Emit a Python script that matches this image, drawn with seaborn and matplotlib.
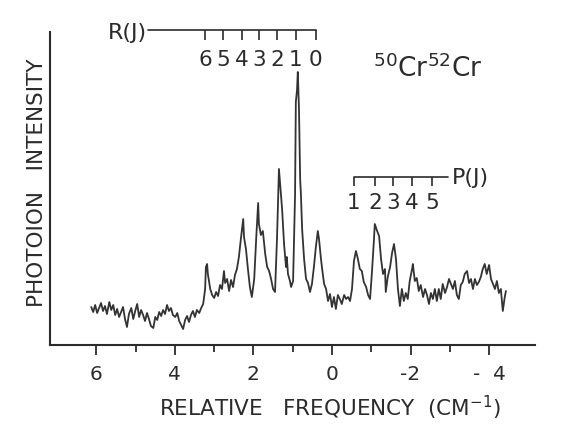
import matplotlib
matplotlib.use("Agg")
import matplotlib.pyplot as plt
import seaborn as sns
import pandas as pd

# ---------------- data ----------------
freq = [6.13, 6.08, 6.03, 5.98, 5.93, 5.88, 5.83, 5.78, 5.73, 5.67,
        5.62, 5.57, 5.52, 5.47, 5.42, 5.37, 5.32, 5.27, 5.22, 5.17,
        5.11, 5.06, 5.01, 4.96, 4.91, 4.86, 4.81, 4.76, 4.71, 4.66,
        4.61, 4.55, 4.50, 4.45, 4.40, 4.35, 4.30, 4.25, 4.20, 4.15,
        4.10, 4.05, 3.99, 3.94, 3.89, 3.84, 3.79, 3.74, 3.69, 3.64,
        3.59, 3.54, 3.49, 3.44, 3.38, 3.33, 3.28,
        3.23, 3.21, 3.18, 3.16, 3.10, 3.05, 3.00, 2.95, 2.90, 2.85,
        2.80, 2.75, 2.72, 2.67, 2.62, 2.57, 2.52, 2.47, 2.42, 2.37,
        2.32, 2.26, 2.24, 2.19, 2.14, 2.09, 2.04, 1.98, 1.93, 1.88,
        1.86, 1.81, 1.76, 1.70, 1.65, 1.60, 1.55, 1.50, 1.45, 1.40,
        1.35, 1.32, 1.27, 1.22, 1.17, 1.15, 1.12, 1.07, 1.04, 0.99,
        0.94, 0.92, 0.89, 0.87, 0.84, 0.81, 0.79, 0.76, 0.71, 0.66,
        0.61, 0.56, 0.51, 0.46, 0.41, 0.36, 0.33, 0.28, 0.25, 0.20,
        0.15, 0.10, 0.05, 0.00, -0.05, -0.10, -0.15, -0.20, -0.25, -0.31,
        -0.36, -0.41, -0.46, -0.51, -0.56, -0.61, -0.66, -0.71, -0.76, -0.81,
        -0.87, -0.92, -0.97, -1.02, -1.07, -1.09, -1.15, -1.20, -1.25, -1.30,
        -1.35, -1.37, -1.42, -1.48, -1.53, -1.58, -1.63, -1.68, -1.73, -1.78,
        -1.83, -1.88, -1.93, -1.98, -2.04, -2.06, -2.11, -2.16, -2.21, -2.26,
        -2.32, -2.37, -2.42, -2.47, -2.52, -2.57, -2.62, -2.67, -2.72, -2.77,
        -2.82, -2.88, -2.93, -2.98, -3.03, -3.08, -3.13, -3.18, -3.23, -3.28,
        -3.33, -3.38, -3.44, -3.49, -3.54, -3.59, -3.64, -3.69, -3.74, -3.79,
        -3.84, -3.89, -3.94, -4.00, -4.05, -4.10, -4.15, -4.20, -4.25, -4.30,
        -4.35, -4.40, -4.43]

intensity = [38, 33, 40, 32, 37, 42, 34, 39, 31, 43,
             35, 40, 30, 36, 28, 33, 38, 26, 18, 31,
             37, 26, 34, 41, 28, 35, 30, 24, 32, 26,
             19, 17, 28, 25, 33, 29, 35, 31, 40, 34,
             37, 30, 28, 32, 24, 20, 16, 25, 29, 23,
             30, 34, 28, 35, 32, 37, 41,
             56, 78, 81, 71, 56, 50, 47, 53, 49, 60,
             56, 74, 62, 66, 54, 65, 58, 70, 76, 88,
             106, 126, 108, 96, 76, 58, 48, 66, 106, 142,
             121, 110, 114, 91, 78, 74, 66, 56, 53, 106,
             176, 161, 136, 101, 78, 88, 71, 64, 58, 64,
             150, 243, 255, 273, 236, 166, 150, 116, 86, 66,
             62, 53, 61, 78, 98, 114, 106, 86, 76, 61,
             56, 44, 51, 38, 48, 36, 50, 46, 41, 50,
             46, 48, 44, 56, 84, 94, 86, 76, 74, 63,
             58, 50, 46, 74, 106, 121, 114, 109, 86, 71,
             76, 53, 68, 78, 92, 101, 86, 56, 39, 56,
             44, 52, 46, 64, 76, 81, 64, 67, 54, 60,
             48, 56, 50, 41, 52, 46, 56, 44, 56, 46,
             61, 52, 58, 66, 61, 56, 64, 50, 46, 60,
             63, 71, 74, 62, 66, 56, 66, 60, 63, 68,
             76, 81, 71, 80, 66, 61, 56, 64, 52, 56,
             34, 48, 54]

x_ticks = [6, 4, 2, 0, -2, -4]
x_tick_labels = ["6", "4", "2", "0", "-2", "-  4"]
x_minor_ticks = [5, 3, 1, -1, -3]

R_labels = ["6", "5", "4", "3", "2", "1", "0"]
R_positions = [3.23, 2.77, 2.29, 1.86, 1.40, 0.92, 0.41]
P_labels = ["1", "2", "3", "4", "5"]
P_positions = [-0.56, -1.09, -1.55, -2.04, -2.54]

# ---------------- style ----------------
sns.set_theme(style="white")
plt.rcParams["font.family"] = ["DejaVu Sans"]
plt.rcParams["mathtext.default"] = "regular"
ink = "#2b2b2b"

fig = plt.figure(figsize=(5.62, 4.39), dpi=100)
ax = fig.add_axes([50 / 562, 93 / 439, 485 / 562, 313 / 439])

df = pd.DataFrame({"freq": freq, "intensity": intensity})
sns.lineplot(data=df, x="freq", y="intensity", ax=ax, color="#333333",
             linewidth=1.3, sort=False)

ax.set_xlim(7.18, -5.17)
ax.set_ylim(0, 313)

for s in ["top", "right"]:
    ax.spines[s].set_visible(False)
for s in ["left", "bottom"]:
    ax.spines[s].set_color(ink)
    ax.spines[s].set_linewidth(1.5)

ax.set_xticks(x_ticks)
ax.set_xticklabels(x_tick_labels)
ax.set_xticks(x_minor_ticks, minor=True)
ax.set_yticks([])
ax.tick_params(axis="x", which="major", direction="out", length=7, width=1.3,
               color=ink, labelcolor=ink, labelsize=14.5, pad=7, bottom=True)
ax.tick_params(axis="x", which="minor", direction="out", length=5, width=1.3,
               color=ink, bottom=True)

ax.set_xlabel("RELATIVE   FREQUENCY  (CM$^{-1}$)", fontsize=15.5, color=ink)
ax.xaxis.set_label_coords(0.577, -0.153)
ax.set_ylabel("PHOTOION   INTENSITY", fontsize=15.5, color=ink)
ax.yaxis.set_label_coords(-0.006, 0.52)

# R(J) comb
R_line_left = 4.68
R_y = 315
ax.plot([R_line_left, R_positions[-1]], [R_y, R_y], color=ink, lw=1.2,
        clip_on=False)
ax.vlines(R_positions, R_y - 10, R_y, color=ink, lw=1.2, clip_on=False)
for lab, pos in zip(R_labels, R_positions):
    ax.text(pos, 286, lab, ha="center", va="center", fontsize=15.5,
            color=ink, clip_on=False)
ax.text(R_line_left + 0.02, R_y - 2, "R(J)", ha="right", va="center",
        fontsize=16, color=ink, clip_on=False)

# P(J) comb
P_line_right = -2.95
P_y = 168
ax.plot([P_positions[0], P_line_right], [P_y, P_y], color=ink, lw=1.2)
ax.vlines(P_positions, P_y - 9, P_y, color=ink, lw=1.2)
for lab, pos in zip(P_labels, P_positions):
    ax.text(pos, 143, lab, ha="center", va="center", fontsize=15.5, color=ink)
ax.text(P_line_right - 0.1, P_y, "P(J)", ha="left", va="center",
        fontsize=16, color=ink)

# molecule label
ax.text(0.666, 0.86, "$^{50}$Cr$^{52}$Cr", transform=ax.transAxes,
        ha="left", va="baseline", fontsize=19, color=ink)

fig.savefig("out.png", dpi=100, facecolor="white")
